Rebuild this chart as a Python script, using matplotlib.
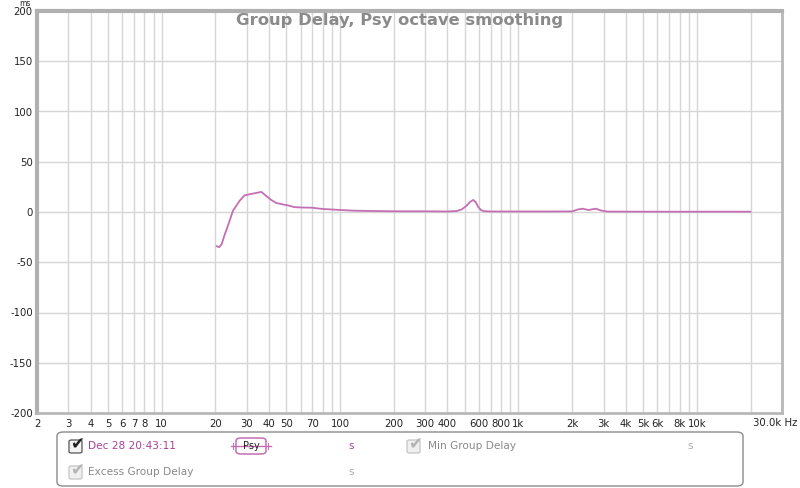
import matplotlib
matplotlib.use("Agg")
import matplotlib.pyplot as plt
from matplotlib.patches import FancyBboxPatch
from matplotlib.lines import Line2D

# ---- data ----
freq_hz = [20.3, 21, 21.7, 22.4, 23.9, 25.1, 27.3, 29.1, 31.8, 34, 36.2, 38.2, 41.1,
           43.9, 47.9, 51.2, 55.6, 60.6, 69.0, 80.2, 100, 120, 150, 200, 300, 400,
           450, 480, 510, 535, 557, 575, 595, 615, 640, 700, 1000, 1500, 2000,
           2150, 2280, 2470, 2710, 2900, 3170, 5000, 10000, 20000]
group_delay_ms = [-34, -35, -32, -24, -10, 1.3, 11, 16.5, 18, 19, 20, 16.5, 12,
                  9, 7.5, 6.5, 4.8, 4.5, 4.3, 3, 2, 1.3, 1, 0.7, 0.7, 0.5,
                  1, 2.5, 6, 10, 12, 10, 5, 2, 0.8, 0.5, 0.5, 0.5, 0.6,
                  2.5, 3.3, 2, 3.3, 1.5, 0.4, 0.3, 0.3, 0.3]

x_ticks = [2, 3, 4, 5, 6, 7, 8, 10, 20, 30, 40, 50, 70, 100, 200, 300, 400, 600,
           800, 1000, 2000, 3000, 4000, 5000, 6000, 8000, 10000]
x_tick_labels = ["2", "3", "4", "5", "6", "7", "8", "10", "20", "30", "40", "50",
                 "70", "100", "200", "300", "400", "600", "800", "1k", "2k", "3k",
                 "4k", "5k", "6k", "8k", "10k"]
x_end_label = "30.0k Hz"
y_ticks = [200, 150, 100, 50, 0, -50, -100, -150, -200]
y_tick_labels = ["200", "150", "100", "50", "0", "-50", "-100", "-150", "-200"]

title = "Group Delay, Psy octave smoothing"
legend_name = "Dec 28 20:43:11"

LINE_COLOR = "#c46fb4"
TEXT_PURPLE = "#a8409a"
W, H = 800, 488

def fx(px):
    return px / W

def fy(py):
    return 1 - py / H

fig = plt.figure(figsize=(8, 4.88), dpi=100)
fig.patch.set_facecolor("white")
ax = fig.add_axes([fx(37), fy(413), fx(782) - fx(37), fy(11) - fy(413)])

ax.set_xscale("log")
ax.set_xlim(2, 30000)
ax.set_ylim(-200, 200)

# grid: every minor decade line
grid_freqs = []
for dec in [1, 10, 100, 1000, 10000]:
    for m in range(1, 10):
        f = m * dec
        if 2 < f < 30000:
            grid_freqs.append(f)
for f in grid_freqs:
    ax.axvline(f, color="#d6d6d6", lw=1.0, zorder=1)
for yv in y_ticks:
    if -200 < yv < 200:
        ax.axhline(yv, color="#d6d6d6", lw=1.0, zorder=1)

ax.plot(freq_hz, group_delay_ms, color=LINE_COLOR, lw=1.3, zorder=3,
        solid_joinstyle="round", solid_capstyle="round")

ax.set_xticks(x_ticks)
ax.set_xticklabels(x_tick_labels)
ax.xaxis.set_minor_locator(matplotlib.ticker.NullLocator())
ax.set_yticks(y_ticks)
ax.set_yticklabels(y_tick_labels)
ax.tick_params(axis="both", length=0, labelsize=7.3, colors="#222222")
ax.tick_params(axis="x", pad=4)
ax.tick_params(axis="y", pad=3)

for side in ["left", "top"]:
    ax.spines[side].set_color("#b0b0b0")
    ax.spines[side].set_linewidth(3)
for side in ["right", "bottom"]:
    ax.spines[side].set_color("#b8b8b8")
    ax.spines[side].set_linewidth(2)

fig.text(fx(797), fy(423), x_end_label, fontsize=7.3, color="#222222",
         ha="right", va="center")
fig.text(fx(25), fy(3), "ms", fontsize=5.5, color="#222222", ha="center", va="center")
fig.text(0.5, fy(20), title, fontsize=11.8, fontweight="bold", color="#8a8a8a",
         ha="center", va="center")

# ---- legend panel ----
panel = FancyBboxPatch((fx(57), fy(486)), fx(743) - fx(57), fy(432) - fy(486),
                       boxstyle="round,pad=0,rounding_size=0.008",
                       transform=fig.transFigure, facecolor="white",
                       edgecolor="#8c8c8c", lw=1.0)
fig.add_artist(panel)

def checkbox(px, py, dark):
    ec = "#555555" if dark else "#c4c4c4"
    fc = "#f4f4f4" if dark else "#f0f0f0"
    box = FancyBboxPatch((fx(px), fy(py + 7)), fx(13), fy(0) - fy(13),
                         boxstyle="round,pad=0,rounding_size=0.003",
                         transform=fig.transFigure, facecolor=fc, edgecolor=ec, lw=0.9)
    fig.add_artist(box)
    fig.text(fx(px + 8), fy(py - 2), "\u2714", fontsize=12,
             color="#222222" if dark else "#b4b4b4", ha="center", va="center")

checkbox(69, 446, True)
fig.text(fx(88), fy(446), legend_name, fontsize=7.6, color=TEXT_PURPLE, va="center")
checkbox(69, 472, False)
fig.text(fx(88), fy(472), "Excess Group Delay", fontsize=7.6, color="#8a8a8a", va="center")
checkbox(407, 446, False)
fig.text(fx(428), fy(446), "Min Group Delay", fontsize=7.6, color="#8a8a8a", va="center")

# Psy badge
fig.add_artist(Line2D([fx(231), fx(271)], [fy(446), fy(446)], color=LINE_COLOR,
                      lw=1.0, transform=fig.transFigure))
for tx in [233, 268]:
    fig.add_artist(Line2D([fx(tx), fx(tx)], [fy(443), fy(449)], color=LINE_COLOR,
                          lw=0.8, transform=fig.transFigure))
badge = FancyBboxPatch((fx(236), fy(454)), fx(30), fy(0) - fy(16),
                       boxstyle="round,pad=0,rounding_size=0.006",
                       transform=fig.transFigure, facecolor="white",
                       edgecolor=LINE_COLOR, lw=1.1)
fig.add_artist(badge)
fig.text(fx(251), fy(446), "Psy", fontsize=7, color="#222222", ha="center", va="center")

fig.text(fx(351), fy(446), "s", fontsize=7.6, color=TEXT_PURPLE, ha="center", va="center")
fig.text(fx(351), fy(472), "s", fontsize=7.6, color="#aaaaaa", ha="center", va="center")
fig.text(fx(690), fy(446), "s", fontsize=7.6, color="#aaaaaa", ha="center", va="center")

fig.savefig("out.png", dpi=100, facecolor="white")
